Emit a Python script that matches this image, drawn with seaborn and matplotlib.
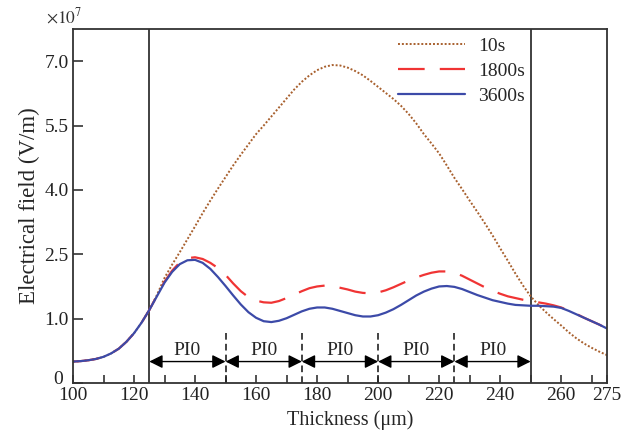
import numpy as np
import pandas as pd
import matplotlib
matplotlib.use("Agg")
import matplotlib.pyplot as plt
from matplotlib.transforms import ScaledTranslation
import seaborn as sns

# ---- data (field in units of 1e7 V/m, on the chart's label scale) ----
thickness = [100, 102.5, 105, 107.5, 110, 112.5, 115, 117.5, 120, 122.5, 125, 127.5, 130, 132.5,
             135, 137.5, 140, 142.5, 145, 147.5, 150, 152.5, 155, 157.5, 160, 162.5, 165, 167.5,
             170, 172.5, 175, 177.5, 180, 182.5, 185, 187.5, 190, 192.5, 195, 197.5, 200, 202.5,
             205, 207.5, 210, 212.5, 215, 217.5, 220, 222.5, 225, 227.5, 230, 232.5, 235, 237.5,
             240, 242.5, 245, 247.5, 250, 252.5, 255, 257.5, 260, 262.5, 265, 267.5, 270, 272.5, 275]
field_10s = [0.00, 0.01, 0.03, 0.06, 0.11, 0.19, 0.30, 0.46, 0.66, 0.91, 1.20, 1.55, 1.95, 2.26,
             2.55, 2.85, 3.15, 3.46, 3.75, 4.03, 4.30, 4.57, 4.82, 5.06, 5.30, 5.50, 5.71, 5.92,
             6.13, 6.34, 6.52, 6.67, 6.79, 6.87, 6.91, 6.90, 6.85, 6.77, 6.67, 6.54, 6.40, 6.26,
             6.12, 5.96, 5.77, 5.55, 5.30, 5.08, 4.85, 4.57, 4.28, 4.02, 3.75, 3.49, 3.22, 2.94,
             2.64, 2.35, 2.05, 1.77, 1.52, 1.32, 1.15, 0.99, 0.84, 0.68, 0.54, 0.42, 0.32, 0.23, 0.15]
field_1800s = [0.00, 0.01, 0.03, 0.06, 0.11, 0.19, 0.30, 0.46, 0.66, 0.91, 1.20, 1.53, 1.86, 2.12,
               2.31, 2.41, 2.43, 2.39, 2.30, 2.18, 2.02, 1.82, 1.64, 1.50, 1.42, 1.38, 1.37, 1.41,
               1.48, 1.56, 1.64, 1.71, 1.75, 1.77, 1.76, 1.72, 1.68, 1.63, 1.60, 1.59, 1.61, 1.66,
               1.73, 1.81, 1.89, 1.96, 2.02, 2.07, 2.10, 2.10, 2.07, 2.00, 1.91, 1.82, 1.73, 1.65,
               1.58, 1.52, 1.48, 1.44, 1.41, 1.38, 1.35, 1.31, 1.26, 1.19, 1.11, 1.02, 0.94, 0.86, 0.77]
field_3600s = [0.00, 0.01, 0.03, 0.06, 0.11, 0.19, 0.30, 0.46, 0.66, 0.91, 1.20, 1.52, 1.84, 2.09,
               2.27, 2.36, 2.37, 2.30, 2.16, 1.97, 1.76, 1.54, 1.33, 1.15, 1.02, 0.94, 0.92, 0.95,
               1.01, 1.09, 1.17, 1.23, 1.26, 1.26, 1.23, 1.18, 1.13, 1.08, 1.05, 1.05, 1.08, 1.14,
               1.22, 1.32, 1.43, 1.54, 1.63, 1.70, 1.75, 1.76, 1.74, 1.69, 1.62, 1.55, 1.49, 1.43,
               1.39, 1.35, 1.32, 1.31, 1.30, 1.30, 1.29, 1.28, 1.25, 1.18, 1.10, 1.02, 0.94, 0.86, 0.77]
series_labels = ["10s", "1800s", "3600s"]
ytick_pos = [-0.5, 1.0, 2.5, 4.0, 5.5, 7.0]
ytick_labels = ["0", "1.0", "2.5", "4.0", "5.5", "7.0"]
xtick_major = [100, 120, 140, 160, 180, 200, 220, 240, 260, 275]
xtick_minor = [110, 130, 150, 170, 190, 210, 230, 250, 270]
layer_bounds = [125, 150, 175, 200, 225, 250]
layer_label = "PI0"

sns.set_theme(style="ticks")
plt.rcParams["font.family"] = ["Liberation Serif", "DejaVu Serif"]
plt.rcParams["mathtext.fontset"] = "stix"

fig = plt.figure(figsize=(6.26, 4.34), dpi=100)
ax = fig.add_axes([0.1166, 0.1175, 0.853, 0.8157])

df = pd.DataFrame({"x": thickness, "10s": field_10s, "1800s": field_1800s, "3600s": field_3600s})

sns.lineplot(data=df, x="x", y="10s", ax=ax, color="#a8602e", lw=1.4,
             linestyle=(0, (1.0, 1.0)), label=series_labels[0])
sns.lineplot(data=df, x="x", y="1800s", ax=ax, color="#f03434", lw=1.6,
             linestyle=(0, (12, 6.8)), label=series_labels[1])
sns.lineplot(data=df, x="x", y="3600s", ax=ax, color="#3c4aa8", lw=1.6,
             linestyle="-", label=series_labels[2])

ax.set_xlim(100, 275)
ax.set_ylim(-0.5, 7.75)

# layer boundaries
for xb in [layer_bounds[0], layer_bounds[-1]]:
    ax.axvline(xb, color="#333333", lw=1.3, zorder=1)
for xb in layer_bounds[1:-1]:
    ax.vlines(xb, -0.5, 0.66, color="#222222", lw=1.2, linestyles=(0, (4, 2.5)))

for a, b in zip(layer_bounds[:-1], layer_bounds[1:]):
    ax.annotate("", xy=(a, 0.0), xytext=(b, 0.0),
                arrowprops=dict(arrowstyle="<|-|>", color="black", lw=1.0,
                                mutation_scale=20, shrinkA=0, shrinkB=0))
    ax.text((a + b) / 2, 0.15, layer_label, ha="center", va="baseline", fontsize=14)

ax.set_yticks(ytick_pos)
ax.set_yticklabels(ytick_labels)
ax.set_xticks(xtick_major)
ax.set_xticks(xtick_minor, minor=True)
ax.tick_params(axis="both", which="both", direction="in", labelsize=14, colors="#222222")
ax.tick_params(axis="x", which="major", length=6, width=1.1, pad=3)
ax.tick_params(axis="x", which="minor", length=6, width=1.1)
ax.tick_params(axis="y", which="major", length=7, width=1.1, pad=3)
zero_lbl = ax.get_yticklabels()[0]
zero_lbl.set_transform(zero_lbl.get_transform()
                       + ScaledTranslation(-4 / 72, 4 / 72, fig.dpi_scale_trans))
for s in ax.spines.values():
    s.set_visible(True)
    s.set_linewidth(1.3)
    s.set_color("#333333")

ax.set_xlabel("Thickness (\u03bcm)", fontsize=14.5)
ax.xaxis.set_label_coords(0.52, -0.078)
ax.set_ylabel("Electrical field (V/m)", fontsize=16.5, labelpad=3)
ax.text(-0.05, 1.005, r"$\times10^{7}$", transform=ax.transAxes, fontsize=12.5,
        ha="left", va="bottom", color="#333333")

leg = ax.legend(loc="upper right", bbox_to_anchor=(0.88, 1.026), frameon=False,
                fontsize=14, handlelength=3.4, handletextpad=0.72, labelspacing=0.38)

fig.savefig("out.png", dpi=100)
